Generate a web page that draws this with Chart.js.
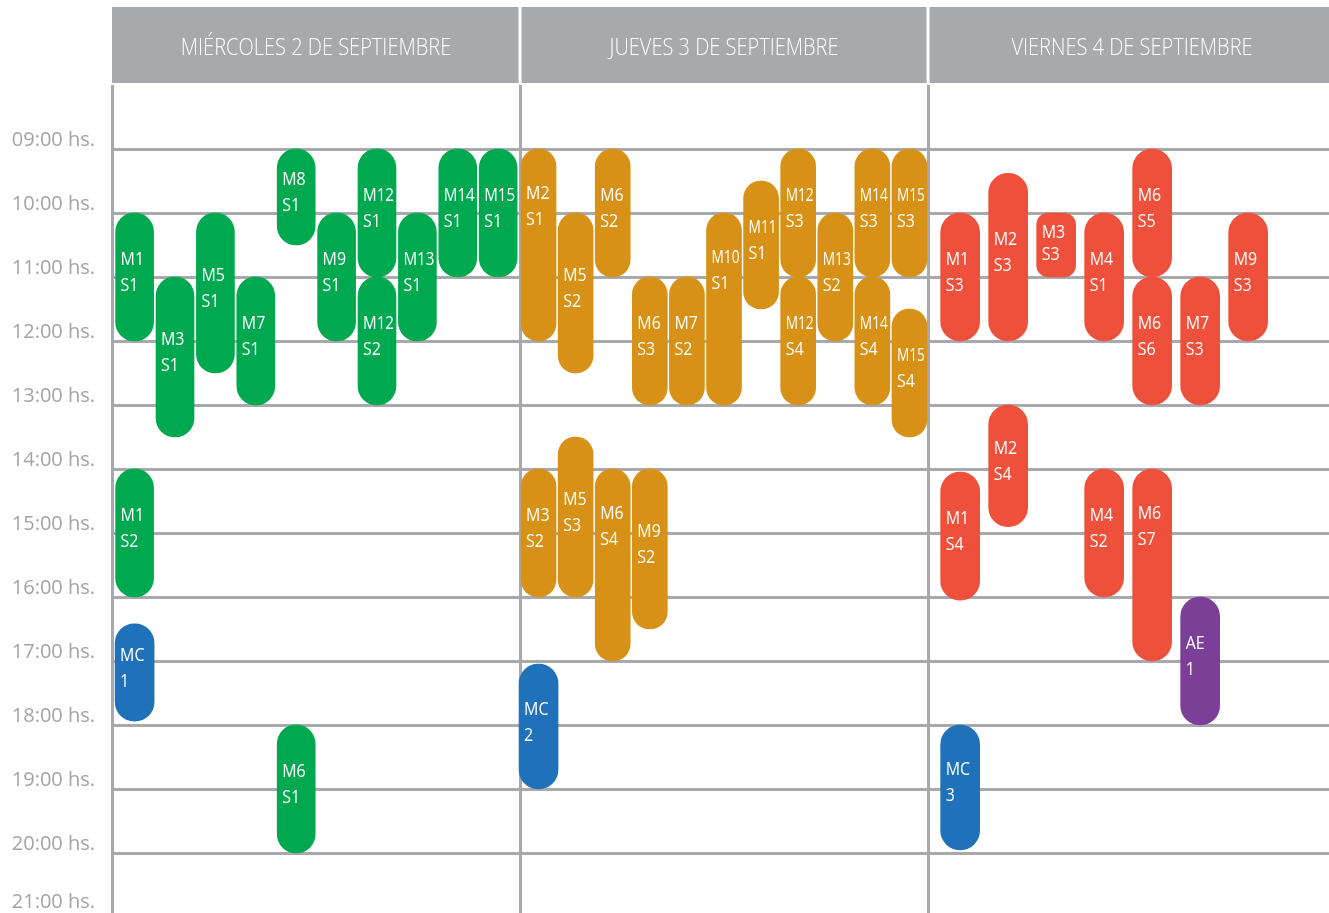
<!DOCTYPE html>
<html>
<head>
<meta charset="utf-8">
<title>Cronograma de sesiones</title>
<script src="https://cdn.jsdelivr.net/npm/chart.js@4/dist/chart.umd.min.js"></script>
<style>
    html, body { margin: 0; padding: 0; background: #fff; overflow: hidden; }
    #wrap { width: 1336px; height: 917px; }
</style>
</head>
<body>
<div id="wrap"><canvas id="agenda" width="1336" height="917"></canvas></div>
<script>
// columns (days) and time labels
var dayNames = ['MIÉRCOLES 2 DE SEPTIEMBRE', 'JUEVES 3 DE SEPTIEMBRE', 'VIERNES 4 DE SEPTIEMBRE'];
var hourLabels = ['09:00 hs.', '10:00 hs.', '11:00 hs.', '12:00 hs.', '13:00 hs.', '14:00 hs.',
                  '15:00 hs.', '16:00 hs.', '17:00 hs.', '18:00 hs.', '19:00 hs.', '20:00 hs.', '21:00 hs.'];

// sessions: code, day, lane inside the day, start hour, end hour
var codes = [
    'M1 S1', 'M1 S2', 'MC 1', 'M3 S1', 'M5 S1', 'M7 S1', 'M8 S1', 'M6 S1', 'M9 S1', 'M12 S1', 'M12 S2', 'M13 S1', 'M14 S1', 'M15 S1',
    'M2 S1', 'M3 S2', 'MC 2', 'M5 S2', 'M5 S3', 'M6 S2', 'M6 S4', 'M6 S3', 'M9 S2', 'M7 S2', 'M10 S1', 'M11 S1', 'M12 S3', 'M12 S4', 'M13 S2', 'M14 S3', 'M14 S4', 'M15 S3', 'M15 S4',
    'M1 S3', 'M1 S4', 'MC 3', 'M2 S3', 'M2 S4', 'M3 S3', 'M4 S1', 'M4 S2', 'M6 S5', 'M6 S6', 'M6 S7', 'M7 S3', 'AE 1', 'M9 S3'
];
var days = [
    0, 0, 0, 0, 0, 0, 0, 0, 0, 0, 0, 0, 0, 0,
    1, 1, 1, 1, 1, 1, 1, 1, 1, 1, 1, 1, 1, 1, 1, 1, 1, 1, 1,
    2, 2, 2, 2, 2, 2, 2, 2, 2, 2, 2, 2, 2, 2
];
var lanes = [
    0, 0, 0, 1, 2, 3, 4, 4, 5, 6, 6, 7, 8, 9,
    0, 0, 0, 1, 1, 2, 2, 3, 3, 4, 5, 6, 7, 7, 8, 9, 9, 10, 10,
    0, 0, 0, 1, 1, 2, 3, 3, 4, 4, 4, 5, 5, 6
];
var starts = [
    10, 14, 16.42, 11, 10, 11, 9, 18, 10, 9, 11, 10, 9, 9,
    9, 14, 17.05, 10, 13.5, 9, 14, 11, 14, 11, 10, 9.5, 9, 11, 10, 9, 11, 9, 11.5,
    10, 14.05, 18, 9.38, 13, 10, 10, 14, 9, 11, 14, 11, 16, 10
];
var ends = [
    12, 16, 17.94, 13.5, 12.5, 13, 10.5, 20, 12, 11, 13, 12, 11, 11,
    12, 16, 19, 12.5, 16, 11, 17, 13, 16.5, 13, 13, 11.5, 11, 13, 12, 11, 13, 11, 13.5,
    12, 16.05, 19.95, 12, 14.9, 11, 12, 16, 11, 13, 17, 13, 18, 12
];

// lane layout per day column
var lanesPerDay = [10.1, 11, 8.5];
var laneShift = [0.56, 0.5, 0.67];

var groups = [
    { key: 'D0', label: 'Miércoles', color: '#00a94f', width: 38 },
    { key: 'D1', label: 'Jueves', color: '#d79116', width: 35 },
    { key: 'D2', label: 'Viernes', color: '#ef503b', width: 39 },
    { key: 'MC', label: 'MC', color: '#1f71b9', width: 39 },
    { key: 'AE', label: 'AE', color: '#7c3f98', width: 39 }
];

function groupOf(i) {
    var c = codes[i];
    if (c.indexOf('MC') === 0) return 'MC';
    if (c.indexOf('AE') === 0) return 'AE';
    return 'D' + days[i];
}

function lanePos(d, l) {
    return d + (l + laneShift[d]) / lanesPerDay[d];
}

var datasets = groups.map(function (g) {
    var pts = [];
    for (var i = 0; i < codes.length; i++) {
        if (groupOf(i) !== g.key) continue;
        pts.push({ x: lanePos(days[i], lanes[i]), y: [starts[i], ends[i]], code: codes[i] });
    }
    return {
        label: g.label,
        data: pts,
        backgroundColor: g.color,
        barThickness: g.width,
        borderSkipped: false,
        borderRadius: function (c) {
            var r = c.raw;
            return r && (r.y[1] - r.y[0]) <= 1 ? 12 : 20;
        }
    };
});

var dayHeader = {
    id: 'dayHeader',
    beforeDraw: function (chart) {
        var ctx = chart.ctx;
        var xs = chart.scales.x;
        dayNames.forEach(function (name, d) {
            var l = xs.getPixelForValue(d);
            var r = xs.getPixelForValue(d + 1);
            var gapL = d ? 1.5 : 0;
            ctx.save();
            ctx.fillStyle = '#a7a9ac';
            ctx.fillRect(l + gapL, 7, r - l - gapL - 1.5, 76);
            ctx.fillStyle = '#ffffff';
            ctx.font = '300 23px "Open Sans", sans-serif';
            ctx.textAlign = 'center';
            ctx.textBaseline = 'alphabetic';
            ctx.translate((l + r) / 2, 55);
            ctx.scale(0.87, 1);
            ctx.fillText(name, 0, 0);
            ctx.restore();
        });
    }
};

var sessionLabels = {
    id: 'sessionLabels',
    afterDatasetsDraw: function (chart) {
        var ctx = chart.ctx;
        ctx.save();
        ctx.fillStyle = '#ffffff';
        ctx.font = '19px "Open Sans", sans-serif';
        ctx.textAlign = 'left';
        ctx.textBaseline = 'alphabetic';
        chart.data.datasets.forEach(function (ds, di) {
            var meta = chart.getDatasetMeta(di);
            meta.data.forEach(function (bar, i) {
                var item = ds.data[i];
                var parts = item.code.split(' ');
                var top = Math.min(bar.y, bar.base);
                var bottom = Math.max(bar.y, bar.base);
                var dur = item.y[1] - item.y[0];
                var gap = 26;
                var mid;
                if (dur >= 3) {
                    mid = top + 56;
                } else if (dur <= 1) {
                    mid = (top + bottom) / 2 - 3;
                    gap = 22;
                } else {
                    mid = (top + bottom) / 2 - 6;
                }
                var left = bar.x - bar.width / 2 + 5;
                var maxW = bar.width - 7;
                parts.forEach(function (t, k) {
                    var w = ctx.measureText(t).width;
                    var sx = Math.min(0.84, maxW / w);
                    var base = mid + (k === 0 ? -gap / 2 : gap / 2) + 7;
                    ctx.save();
                    ctx.translate(left, base);
                    ctx.scale(sx, 1);
                    ctx.fillText(t, 0, 0);
                    ctx.restore();
                });
            });
        });
        ctx.restore();
    }
};

var agenda = new Chart(document.getElementById('agenda'), {
    type: 'bar',
    data: { datasets: datasets },
    options: {
        responsive: false,
        animation: false,
        grouped: false,
        layout: { padding: { top: 85, left: 0, right: 0, bottom: 0 } },
        plugins: {
            legend: { display: false },
            tooltip: { enabled: false }
        },
        scales: {
            x: {
                type: 'linear',
                position: 'top',
                offset: false,
                min: 0,
                max: 3,
                afterFit: function (s) { s.height = 0; },
                border: { display: false },
                grid: { color: '#a7a9ac', lineWidth: 3, drawTicks: false, offset: false },
                ticks: { display: false, stepSize: 1 }
            },
            y: {
                type: 'linear',
                reverse: true,
                min: 8,
                max: 21,
                afterFit: function (s) {
                    s.width = 112;
                    s.paddingTop = 0;
                    s.paddingBottom = 0;
                },
                border: { display: false },
                grid: {
                    color: function (c) {
                        return c.tick && c.tick.value === 8 ? 'rgba(0,0,0,0)' : '#a7a9ac';
                    },
                    lineWidth: 3,
                    drawTicks: false
                },
                ticks: {
                    stepSize: 1,
                    autoSkip: false,
                    padding: 17,
                    labelOffset: -9,
                    color: '#a2a4a7',
                    font: function (c) {
                        // last label sits at the lower edge: lift it a little
                        var last = c.tick && c.tick.value === 21;
                        return { family: '"Open Sans", sans-serif', size: 20, lineHeight: last ? 0.6 : 1.2 };
                    },
                    callback: function (v) {
                        var t = hourLabels[v - 9] || '';
                        return v === 21 ? [t, ''] : t;
                    }
                }
            }
        }
    },
    plugins: [dayHeader, sessionLabels]
});
</script>
</body>
</html>
